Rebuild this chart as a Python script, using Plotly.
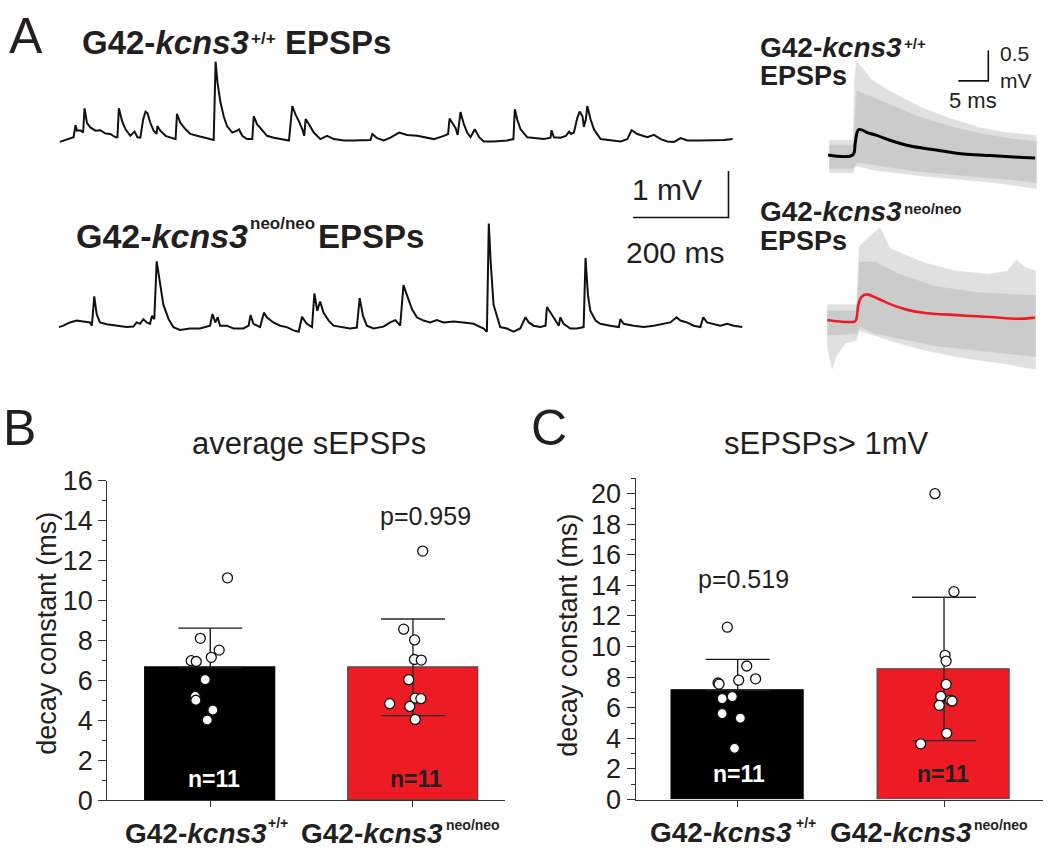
import plotly.graph_objects as go

# ---------------- data ----------------
# Panel A: example voltage traces (time ms, membrane potential mV relative to baseline)
wt_trace = [(1,-0.03),(9,0.00),(20,0.03),(30,0.07),(34,0.33),(37,0.21),(44,0.22),(50,0.17),(53,0.69),(58,0.38),
 (65,0.28),(76,0.21),(86,0.22),(97,0.15),(107,0.14),(118,0.07),(122,0.07),(125,0.69),(132,0.41),(139,0.24),
 (149,0.10),(158,0.19),(164,0.07),(170,0.06),(176,0.45),(181,0.62),(185,0.59),(191,0.38),(198,0.21),(204,0.14),
 (206,0.31),(212,0.21),(223,0.10),(237,0.06),(244,0.03),(247,0.57),(254,0.38),(265,0.24),(275,0.14),(289,0.10),
 (303,0.06),(317,0.03),(324,0.01),(328,1.69),(332,1.24),(338,0.83),(345,0.52),(352,0.31),(363,0.17),(373,0.21),
 (377,0.24),(384,0.10),(394,0.03),(405,0.03),(408,0.52),(415,0.35),(426,0.21),(436,0.10),(450,0.06),(464,0.03),
 (482,0.00),(489,0.74),(496,0.55),(503,0.41),(510,0.24),(514,0.10),(517,0.46),(524,0.35),(534,0.17),(548,0.03),
 (562,0.10),(576,0.03),(597,0.00),(618,0.00),(639,0.00),(653,0.01),(657,0.14),(667,0.05),(681,0.00),(695,0.06),
 (713,0.17),(730,0.12),(751,0.10),(765,0.07),(786,0.03),(807,0.10),(816,0.14),(819,0.47),(826,0.35),(832,0.26),
 (836,0.12),(842,0.61),(849,0.35),(856,0.17),(863,0.07),(872,0.24),(881,0.07),(891,-0.02),(912,-0.02),(940,0.00),
 (953,0.03),(956,0.67),(961,0.45),(968,0.24),(982,0.07),(996,0.06),(1017,0.03),(1031,0.06),(1033,0.22),(1038,0.07),
 (1052,0.06),(1063,0.10),(1070,0.19),(1074,0.14),(1080,0.17),(1087,0.48),(1092,0.62),(1098,0.52),(1101,0.29),
 (1105,0.45),(1108,0.74),(1115,0.45),(1122,0.24),(1136,0.03),(1157,0.00),(1178,-0.02),(1192,0.03),(1201,0.22),
 (1213,0.14),(1234,0.07),(1248,0.12),(1262,0.03),(1276,-0.02),(1290,-0.03),(1304,0.05),(1318,0.00),(1346,0.00),
 (1374,0.00),(1395,0.01),(1413,0.03)]

neo_trace = [(0,0.00),(9,0.03),(23,0.10),(37,0.14),(51,0.12),(65,0.10),(69,0.03),(74,0.66),(79,0.28),(86,0.10),
 (100,0.06),(121,0.03),(142,0.00),(156,0.01),(163,0.10),(170,0.07),(177,0.17),(184,0.10),(191,0.07),(195,0.24),
 (200,0.17),(205,1.41),(211,0.97),(219,0.48),(230,0.17),(240,0.00),(254,-0.06),(275,-0.03),(296,-0.03),(317,0.03),
 (322,0.28),(328,0.10),(333,0.21),(338,0.03),(352,0.03),(366,-0.03),(387,-0.03),(398,0.03),(402,0.26),(408,0.07),
 (422,0.00),(430,0.31),(436,0.21),(450,0.10),(464,0.03),(478,0.00),(492,-0.07),(503,-0.10),(510,0.22),(520,0.07),
 (531,0.00),(536,0.72),(542,0.35),(548,0.55),(555,0.31),(566,0.14),(576,0.03),(590,0.00),(611,-0.03),(625,-0.01),
 (631,0.62),(638,0.24),(646,0.03),(660,-0.03),(681,0.01),(695,0.10),(706,0.15),(716,0.03),(723,0.90),(730,0.69),
 (741,0.38),(751,0.21),(765,0.14),(779,0.10),(793,0.15),(807,0.10),(828,0.12),(849,0.10),(870,0.07),(891,-0.03),
 (898,-0.10),(902,2.22),(906,1.38),(912,0.48),(923,0.10),(926,0.00),(940,-0.03),(954,-0.10),(968,-0.03),(979,0.21),
 (986,0.10),(996,0.03),(1010,0.00),(1021,0.03),(1024,0.43),(1031,0.31),(1042,0.14),(1049,0.03),(1052,0.21),
 (1059,0.07),(1073,-0.03),(1087,-0.03),(1101,0.00),(1105,1.48),(1110,0.69),(1115,0.35),(1126,0.14),(1136,0.07),
 (1157,0.03),(1175,0.00),(1178,0.17),(1185,0.07),(1206,0.03),(1227,0.00),(1248,0.03),(1269,0.07),(1283,0.10),
 (1296,0.21),(1304,0.14),(1318,0.10),(1332,0.03),(1346,0.00),(1352,0.21),(1360,0.10),(1374,0.07),(1388,0.03),
 (1402,0.07),(1416,0.03),(1434,0.00)]

# Panel A right: averaged sEPSP (ms, mV)
wt_mean = [(-0.2,0.00),(3.9,0.00),(4.3,0.18),(4.56,0.34),(4.83,0.41),(5.4,0.41),(6.23,0.37),(7.9,0.32),(10.1,0.24),
 (12.9,0.16),(15.7,0.11),(18.5,0.07),(21.2,0.03),(26.8,-0.01),(32.3,-0.04),(34.3,-0.05)]
neo_mean = [(0,0.00),(4.6,-0.02),(4.9,0.04),(5.17,0.25),(5.7,0.38),(6.56,0.42),(8.2,0.36),(10.45,0.26),(13.2,0.17),
 (16.0,0.12),(21.6,0.08),(27.1,0.05),(31.6,0.02),(34.6,0.04)]

# envelopes of the individual events (gray cloud): (ms, upper mV, lower mV)
wt_cloud_outer = [(0,0.24,-0.29),(4.0,0.24,-0.29),(4.2,1.20,-0.20),(4.5,1.53,-0.18),(5.5,1.42,-0.20),(7,1.23,-0.24),
 (10,1.05,-0.28),(15,0.79,-0.34),(20,0.60,-0.39),(25,0.45,-0.43),(29,0.37,-0.47),(34.5,0.32,-0.55)]
wt_cloud_core = [(0,0.16,-0.22),(4.0,0.16,-0.22),(4.6,1.05,-0.12),(7,0.95,-0.16),(10,0.82,-0.20),(15,0.62,-0.27),
 (20,0.47,-0.31),(25,0.35,-0.36),(30,0.27,-0.40),(34.5,0.22,-0.45)]
neo_cloud_outer = [(0,0.25,-0.43),(0.8,0.25,-0.80),(1.5,0.25,-0.59),(3,0.25,-0.38),(4.9,0.25,-0.33),(5.3,1.20,-0.17),
 (7.0,1.36,-0.22),(8.8,1.51,-0.28),(10.5,1.17,-0.34),(16,0.94,-0.49),(21.5,0.80,-0.60),(27,0.75,-0.68),
 (30,0.80,-0.72),(31.5,0.98,-0.75),(33,0.86,-0.78),(34.7,0.80,-0.80)]
neo_cloud_core = [(0,0.15,-0.25),(4.9,0.15,-0.22),(5.4,0.95,-0.10),(8,0.95,-0.22),(12,0.75,-0.30),(18,0.55,-0.42),
 (25,0.45,-0.50),(34.7,0.40,-0.60)]

# Panels B and C: decay constants (ms)
groups = ["G42-kcns3 +/+", "G42-kcns3 neo/neo"]
B_mean = [6.62, 6.65]
B_sd = [1.99, 2.42]
B_wt = [11.13, 8.10, 7.51, 7.15, 6.98, 6.94, 6.03, 5.19, 5.00, 4.51, 4.01]
B_neo = [12.47, 8.56, 8.02, 7.04, 7.01, 6.03, 5.11, 5.08, 4.83, 4.69, 4.04]
B_wt_jit = [0.085, -0.049, 0.044, 0.005, -0.094, -0.069, -0.025, -0.074, -0.071, 0.013, -0.015]
B_neo_jit = [0.048, -0.046, 0.008, 0.007, 0.041, -0.021, 0.011, 0.039, -0.115, -0.016, 0.011]
C_mean = [7.12, 8.54]
C_sd = [2.04, 4.69]
C_wt = [11.27, 8.73, 7.89, 7.80, 7.62, 7.55, 6.73, 6.60, 5.62, 5.32, 3.35]
C_neo = [20.0, 13.59, 9.43, 9.05, 7.53, 6.75, 6.50, 6.44, 6.16, 4.33, 3.64]
C_wt_jit = [-0.050, 0.044, 0.087, 0.005, -0.095, -0.090, -0.026, -0.075, -0.075, 0.013, -0.015]
C_neo_jit = [-0.044, 0.048, 0.005, 0.010, 0.010, -0.016, 0.030, 0.039, -0.023, 0.013, -0.113]
n_labels = ["n=11", "n=11"]
p_B = "p=0.959"
p_C = "p=0.519"

# scale bars
SB_A_MS, SB_A_MV = 200, 1.0
SB_R_MS, SB_R_MV = 5, 0.5

# ---------------- style / layout helpers ----------------
W, H = 1050, 865
FONT = "Liberation Sans, Arial, Helvetica, sans-serif"
TXT = "#231f20"
RED = "#ed1c24"
AX = "#333333"

def fx(p):
    return p / W

def fy(p):
    return 1 - p / H

def ann(text, x, y, size, xanchor="left", color=TXT, angle=0):
    return dict(text=text, x=fx(x), y=fy(y), xref="paper", yref="paper", xanchor=xanchor,
                yanchor="middle", showarrow=False, textangle=angle, borderpad=0, align="left",
                font=dict(size=size, color=color, family=FONT))

fig = go.Figure()

def split(pairs):
    return [p[0] for p in pairs], [p[1] for p in pairs]

# ---- Panel A traces
t, v = split(wt_trace)
fig.add_trace(go.Scatter(x=t, y=v, mode="lines", line=dict(color="#111111", width=2.0),
                         xaxis="x", yaxis="y", hoverinfo="skip"))
t, v = split(neo_trace)
fig.add_trace(go.Scatter(x=t, y=v, mode="lines", line=dict(color="#111111", width=2.0),
                         xaxis="x2", yaxis="y2", hoverinfo="skip"))
# 1 mV / 200 ms scale bar
SBX_END, SBY_BASE = 1405, 2.35
fig.add_trace(go.Scatter(x=[SBX_END - SB_A_MS, SBX_END, SBX_END],
                         y=[SBY_BASE, SBY_BASE, SBY_BASE + SB_A_MV], mode="lines",
                         line=dict(color="#111111", width=1.6), xaxis="x2", yaxis="y2", hoverinfo="skip"))

# ---- Panel A right: clouds of individual events and averages
def cloud(pairs, color, xa, ya):
    tt = [p[0] for p in pairs]
    up = [p[1] for p in pairs]
    lo = [p[2] for p in pairs]
    fig.add_trace(go.Scatter(x=tt + tt[::-1], y=up + lo[::-1], mode="lines", fill="toself",
                             fillcolor=color, line=dict(color=color, width=0.5),
                             xaxis=xa, yaxis=ya, hoverinfo="skip"))

cloud(wt_cloud_outer, "#e0e0e0", "x3", "y3")
cloud(wt_cloud_core, "#cbcbcb", "x3", "y3")
t, v = split(wt_mean)
fig.add_trace(go.Scatter(x=t, y=v, mode="lines", line=dict(color="#000000", width=3, shape="spline"),
                         xaxis="x3", yaxis="y3", hoverinfo="skip"))
cloud(neo_cloud_outer, "#e0e0e0", "x4", "y4")
cloud(neo_cloud_core, "#cbcbcb", "x4", "y4")
t, v = split(neo_mean)
fig.add_trace(go.Scatter(x=t, y=v, mode="lines", line=dict(color=RED, width=2.6, shape="spline"),
                         xaxis="x4", yaxis="y4", hoverinfo="skip"))
# 0.5 mV / 5 ms scale bar
RSX_END, RSY_BASE = 26.5, 1.21
fig.add_trace(go.Scatter(x=[RSX_END - SB_R_MS, RSX_END, RSX_END],
                         y=[RSY_BASE, RSY_BASE, RSY_BASE + SB_R_MV], mode="lines",
                         line=dict(color="#111111", width=1.6), xaxis="x3", yaxis="y3", hoverinfo="skip"))

# ---- Panels B and C
def bar_panel(means, sds, wt_vals, neo_vals, wt_jit, neo_jit, xa, ya):
    fig.add_trace(go.Bar(x=[0], y=[means[0]], width=0.64,
                         marker=dict(color="#000000", line=dict(color="#000000", width=1.2)),
                         error_y=dict(type="data", array=[sds[0]], arrayminus=[0], symmetric=False,
                                      visible=True, color="#1a1a1a", thickness=1.4, width=32),
                         xaxis=xa, yaxis=ya, hoverinfo="skip"))
    fig.add_trace(go.Bar(x=[1], y=[means[1]], width=0.64,
                         marker=dict(color=RED, line=dict(color="#4a4a4a", width=1.2)),
                         error_y=dict(type="data", array=[sds[1]], visible=True, color="#2b2b2b",
                                      thickness=1.4, width=32),
                         xaxis=xa, yaxis=ya, hoverinfo="skip"))
    fig.add_trace(go.Scatter(x=[0 + j for j in wt_jit], y=wt_vals, mode="markers",
                             marker=dict(size=10, color="white", line=dict(color="#111111", width=1.3)),
                             xaxis=xa, yaxis=ya, hoverinfo="skip", cliponaxis=False))
    fig.add_trace(go.Scatter(x=[1 + j for j in neo_jit], y=neo_vals, mode="markers",
                             marker=dict(size=10, color="white", line=dict(color="#111111", width=1.3)),
                             xaxis=xa, yaxis=ya, hoverinfo="skip", cliponaxis=False))

bar_panel(B_mean, B_sd, B_wt, B_neo, B_wt_jit, B_neo_jit, "x5", "y5")
bar_panel(C_mean, C_sd, C_wt, C_neo, C_wt_jit, C_neo_jit, "x6", "y6")

# ---------------- axes ----------------
hidden = dict(visible=False, showgrid=False, zeroline=False, fixedrange=True)
ka = 200 / 95.3      # ms per pixel, panel A traces
ma = 1 / 48.3        # mV per pixel, panel A traces
kr = 6.0             # pixels per ms, right traces
mr = 63.4            # pixels per mV, right traces

layout_axes = dict(
    xaxis=dict(domain=[fx(40), fx(760)], range=[(40 - 59.3) * ka, (760 - 59.3) * ka], anchor="y", **hidden),
    yaxis=dict(domain=[fy(175), fy(20)], range=[(130 - 175) * ma, (130 - 20) * ma], anchor="x", **hidden),
    xaxis2=dict(domain=[fx(40), fx(760)], range=[(40 - 59.0) * ka, (760 - 59.0) * ka], anchor="y2", **hidden),
    yaxis2=dict(domain=[fy(360), fy(150)], range=[(323.3 - 360) * ma, (323.3 - 150) * ma], anchor="x2", **hidden),
    xaxis3=dict(domain=[fx(820), fx(1045)], range=[(820 - 829.3) / kr, (1045 - 829.3) / kr], anchor="y3", **hidden),
    yaxis3=dict(domain=[fy(185), fy(20)], range=[(145 - 185) / mr, (145 - 20) / mr], anchor="x3", **hidden),
    xaxis4=dict(domain=[fx(820), fx(1045)], range=[(820 - 827.3) / kr, (1045 - 827.3) / kr], anchor="y4", **hidden),
    yaxis4=dict(domain=[fy(375), fy(200)], range=[(316 - 375) / mr, (316 - 200) / mr], anchor="x4", **hidden),
)

def cat_x(dom, rng):
    return dict(domain=dom, range=rng, tickvals=[0, 1], showticklabels=False, ticks="outside",
                ticklen=6, tickwidth=1.3, tickcolor=AX, showline=True, linecolor=AX, linewidth=1.3,
                showgrid=False, zeroline=False, fixedrange=True)

def val_y(dom, top):
    return dict(domain=dom, range=[0, top], tick0=0, dtick=2, ticks="outside", ticklen=8, tickwidth=1.3,
                tickcolor=AX, showline=True, linecolor=AX, linewidth=1.3, showgrid=False, zeroline=False,
                tickfont=dict(size=27, color=TXT, family=FONT), fixedrange=True,
                minor=dict(dtick=1, ticks="outside", ticklen=4, tickwidth=1.2, tickcolor=AX, showgrid=False))

layout_axes.update(
    xaxis5=dict(anchor="y5", **cat_x([fx(107.3), fx(505)], [-0.508, 1.454])),
    yaxis5=dict(anchor="x5", **val_y([fy(813.3), fy(482.3)], 16)),
    xaxis6=dict(anchor="y6", **cat_x([fx(635.7), fx(1043.3)], [-0.494, 1.481])),
    yaxis6=dict(anchor="x6", **val_y([fy(812.7), fy(480)], 21)),
)

# ---------------- text ----------------
kc = "<b>G42-<i>kcns3</i></b>"
annots = [
    ann("A", 8, 22, 50),
    ann("B", 2, 428, 50),
    ann("C", 530, 428, 50),
    # panel A left titles
    ann(kc, 81, 29, 33), ann("<b>+/+</b>", 250, 24, 17), ann("<b>EPSPs</b>", 284, 29, 33),
    ann(kc, 75, 229, 34), ann("<b>neo/neo</b>", 249, 216, 17), ann("<b>EPSPs</b>", 317, 229, 33),
    ann("1 mV", 667, 181, 30, xanchor="center"),
    ann("200 ms", 675, 246, 30, xanchor="center"),
    # panel A right titles
    ann(kc, 759, 34, 28), ann("<b>+/+</b>", 903, 30, 15), ann("<b>EPSPs</b>", 759, 63, 27),
    ann(kc, 759, 204, 28), ann("<b>neo/neo</b>", 903, 200, 15), ann("<b>EPSPs</b>", 759, 234, 27),
    ann("0.5<br>mV", 999, 54, 21), ann("5 ms", 973, 89, 22, xanchor="center"),
    # panel B
    ann("average sEPSPs", 309, 444, 31, xanchor="center"),
    ann("decay constant (ms)", 47, 641, 27, xanchor="center", angle=-90),
    ann(p_B, 425, 519, 25, xanchor="center"),
    ann("<b>%s</b>" % n_labels[0], 214, 791, 23, xanchor="center", color="white"),
    ann("<b>%s</b>" % n_labels[1], 416, 791, 23, xanchor="center", color=TXT),
    ann(kc, 124, 848, 28), ann("<b>+/+</b>", 267, 837, 14),
    ann(kc, 300, 848, 28), ann("<b>neo/neo</b>", 445, 839, 14),
    # panel C
    ann("sEPSPs> 1mV", 826, 444, 31, xanchor="center"),
    ann("decay constant (ms)", 568, 643, 27, xanchor="center", angle=-90),
    ann(p_C, 743, 584, 25, xanchor="center"),
    ann("<b>%s</b>" % n_labels[0], 739, 786, 23, xanchor="center", color="white"),
    ann("<b>%s</b>" % n_labels[1], 943, 786, 23, xanchor="center", color=TXT),
    ann(kc, 649, 847, 28), ann("<b>+/+</b>", 795, 837, 14),
    ann(kc, 829, 847, 28), ann("<b>neo/neo</b>", 973, 839, 14),
]

fig.update_layout(
    width=W, height=H, margin=dict(l=0, r=0, t=0, b=0, pad=0),
    paper_bgcolor="white", plot_bgcolor="rgba(0,0,0,0)",
    showlegend=False, bargap=0, barmode="overlay", font=dict(family=FONT, color=TXT),
    annotations=annots, **layout_axes,
)

fig.write_html("out.html", config={"displayModeBar": False},
               post_script="document.body.style.margin='0px';document.body.style.overflow='hidden';")
